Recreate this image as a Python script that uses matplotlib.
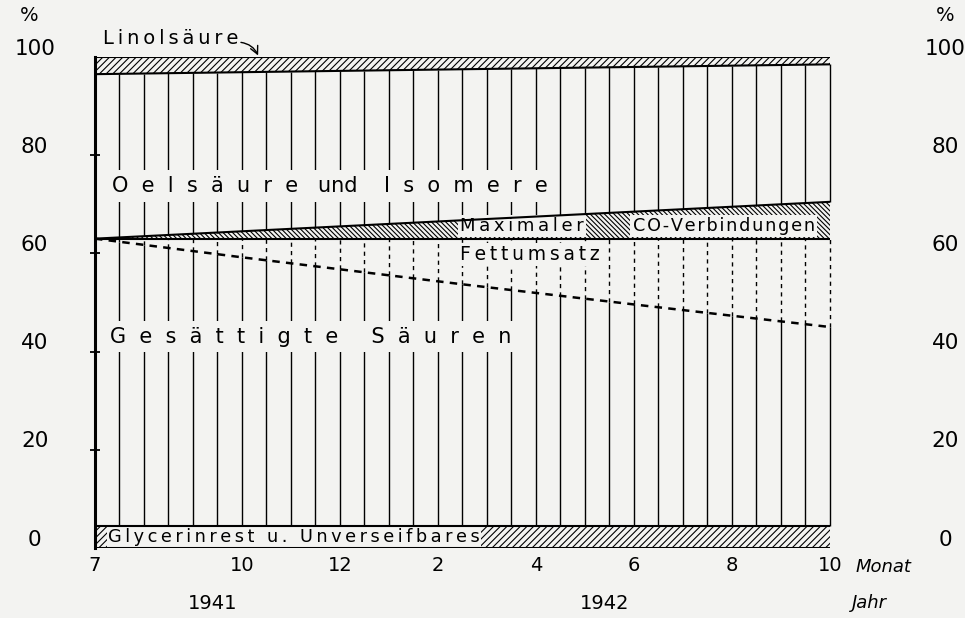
import numpy as np
import matplotlib.pyplot as plt
import matplotlib.transforms as mtransforms

plt.rcParams['font.family'] = ['DejaVu Sans']
plt.rcParams['hatch.linewidth'] = 0.8

# Zeitachse: Monatsindex, 7 = Juli 1941 ... 22 = Oktober 1942
monate = [7, 22]
monat_ticks = [7, 10, 12, 14, 16, 18, 20, 22]
monat_labels = ['7', '10', '12', '2', '4', '6', '8', '10']
prozent_ticks = [0, 20, 40, 60, 80, 100]

# Schichtgrenzen (%)
glycerin_oben = [4.5, 4.5]
linol_unten = [96.5, 98.5]
co_unten = [63, 63]
co_oben = [63, 70.5]

# gestrichelte Linie (gesaettigte Saeuren)
ges_x = [7, 10, 14.5, 18, 22]
ges_y = [63, 59.2, 53.7, 49.6, 45]


def sperren(s, sep='\u2009'):
    # gesperrte Schrift wie im Original
    return sep.join(s)


bg = '#f3f3f1'
fig = plt.figure(figsize=(9.65, 6.18), dpi=100, facecolor=bg)
ax = fig.add_axes([0.0984, 0.1133, 0.7617, 0.7945])
ax.set_facecolor(bg)
ax.set_xlim(7, 22)
ax.set_ylim(0, 100)

for sp in ['top', 'right', 'bottom']:
    ax.spines[sp].set_visible(False)
ax.spines['left'].set_linewidth(2.2)

# schraffierte Baender
ax.fill_between(monate, 0, glycerin_oben, facecolor='none', edgecolor='black',
                hatch='/////', linewidth=0, zorder=1)
ax.fill_between(monate, linol_unten, 100, facecolor='none', edgecolor='black',
                hatch='/////', linewidth=0, zorder=1)
ax.fill_between(monate, co_unten, co_oben, facecolor='none', edgecolor='black',
                hatch='\\' * 7, linewidth=0, zorder=1)

# Begrenzungslinien
ax.plot(monate, [0, 0], color='black', lw=2.2, zorder=4)
ax.plot(monate, glycerin_oben, color='black', lw=1.5, zorder=4)
ax.plot(monate, linol_unten, color='black', lw=1.5, zorder=4)
ax.plot(monate, [100, 100], color='black', lw=1.5, zorder=4)
ax.plot(monate, co_unten, color='black', lw=1.5, zorder=4)
ax.plot(monate, co_oben, color='black', lw=1.5, zorder=4)
ax.plot(ges_x, ges_y, color='black', lw=1.8, ls=(0, (3, 2.5)), zorder=4)

# senkrechte Linien je halben Monat
xs = np.arange(7.5, 22.01, 0.5)
y_ges = np.interp(xs, ges_x, ges_y)
y_co = np.interp(xs, monate, co_oben)
y_lin = np.interp(xs, monate, linol_unten)
ax.vlines(xs, glycerin_oben[0], y_ges, color='black', lw=1, zorder=2, clip_on=False)
ax.vlines(xs, y_ges, co_unten[0], color='black', lw=1, linestyles=(0, (3, 3)),
          zorder=2, clip_on=False)
ax.vlines(xs, y_co, y_lin, color='black', lw=1, zorder=2, clip_on=False)

# Achsen
ax.set_xticks(monat_ticks, monat_labels, fontsize=14)
ax.tick_params(axis='x', length=0, pad=6)
ax.set_yticks([20, 40, 60, 80], [])
ax.tick_params(axis='y', direction='inout', length=7, width=1.3)

lt = mtransforms.blended_transform_factory(ax.transAxes, ax.transData)
for v in prozent_ticks:
    ax.text(-0.082, v + 1.7, str(v), transform=lt, ha='center', va='center',
            fontsize=15.5, clip_on=False)
    ax.text(1.157, v + 1.7, str(v), transform=lt, ha='center', va='center',
            fontsize=15.5, clip_on=False)
ax.text(-0.09, 108.5, '%', transform=lt, ha='center', va='center', fontsize=14)
ax.text(1.157, 108.5, '%', transform=lt, ha='center', va='center', fontsize=14)

ax.text(23.1, -3.9, 'Monat', ha='center', va='center', fontsize=13,
        style='italic', clip_on=False)
ax.text(22.8, -11.2, 'Jahr', ha='center', va='center', fontsize=13,
        style='italic', clip_on=False)
ax.text(9.4, -11.4, '1941', ha='center', va='center', fontsize=14, clip_on=False)
ax.text(17.4, -11.4, '1942', ha='center', va='center', fontsize=14, clip_on=False)

# Beschriftungen
box = dict(facecolor=bg, edgecolor='none', pad=1.5)
oel = '  '.join('Oelsäure') + '   und    ' + '  '.join('Isomere')
ges = '  '.join('Gesättigte') + '     ' + '  '.join('Säuren')
ax.text(7.35, 73.7, oel, ha='left', va='center',
        fontsize=15, bbox=dict(facecolor=bg, edgecolor='none', pad=4), zorder=3)
ax.text(7.3, 43, ges, ha='left', va='center',
        fontsize=15, bbox=dict(facecolor=bg, edgecolor='none', pad=4), zorder=3)
ax.text(14.45, 65.6, sperren('Maximaler'), ha='left', va='center', fontsize=13,
        bbox=box, zorder=3)
ax.text(17.97, 65.6, sperren('CO-Verbindungen', '\u200a'), ha='left', va='center',
        fontsize=12.7, bbox=box, zorder=3)
ax.text(14.45, 59.7, sperren('Fettumsatz'), ha='left', va='center', fontsize=13.5,
        bbox=box, zorder=3)
ax.text(7.27, 2.2, sperren('Glycerinrest u. Unverseifbares'), ha='left', va='center',
        fontsize=12.8, bbox=dict(facecolor=bg, edgecolor='none', pad=0.5), zorder=3)
ax.annotate(sperren('Linolsäure'), xy=(10.33, 100.3), xytext=(7.16, 103.8),
            ha='left', va='center', fontsize=14, annotation_clip=False,
            arrowprops=dict(arrowstyle='->', color='black', lw=1,
                            connectionstyle='arc3,rad=-0.3',
                            shrinkA=0, shrinkB=0,
                            relpos=(1.0, 0.3)))

fig.savefig('out.png', dpi=100, facecolor=bg)
